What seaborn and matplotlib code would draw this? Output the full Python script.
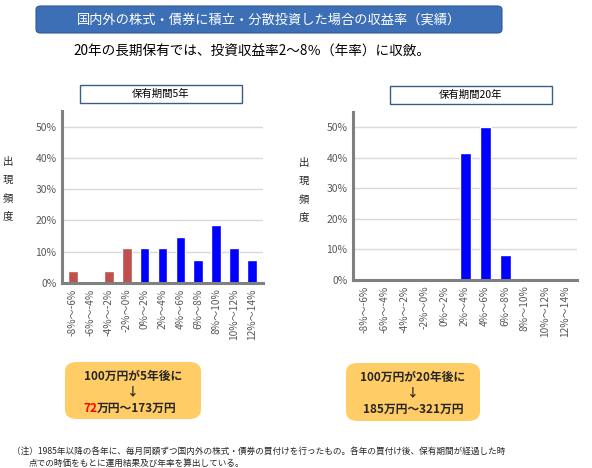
import numpy as np
import pandas as pd
import matplotlib
matplotlib.use("Agg")
import matplotlib.pyplot as plt
from matplotlib.patches import FancyBboxPatch
import seaborn as sns

# data
categories = ["-8%～-6%", "-6%～-4%", "-4%～-2%", "-2%～0%", "0%～2%", "2%～4%",
              "4%～6%", "6%～8%", "8%～10%", "10%～12%", "12%～14%"]
freq_5y = [3.7, 0.0, 3.7, 11.1, 11.1, 11.1, 14.8, 7.4, 18.5, 11.1, 7.4]
freq_20y = [0.0, 0.0, 0.0, 0.0, 0.0, 41.7, 50.0, 8.3, 0.0, 0.0, 0.0]
neg_count = 4  # first four bins are negative returns
titles = ["保有期間5年", "保有期間20年"]

sns.set_theme(style="white")
plt.rcParams["font.family"] = ["Noto Sans CJK JP", "DejaVu Sans"]

fig = plt.figure(figsize=(5.92, 4.68), dpi=100)

red = "#C0504D"
blue = "#0000FF"
colors = [red] * neg_count + [blue] * (len(categories) - neg_count)

ax_pos = [[62 / 592, 1 - 283 / 468, 201 / 592, 172 / 468],
          [353 / 592, 1 - 280 / 468, 224 / 592, 168 / 468]]

for i, vals in enumerate([freq_5y, freq_20y]):
    ax = fig.add_axes(ax_pos[i])
    df = pd.DataFrame({"bin": categories, "freq": vals})
    sns.barplot(data=df, x="bin", y="freq", hue="bin", palette=colors,
                legend=False, width=0.55, ax=ax, saturation=1)
    ax.set_ylim(0, 55)
    ax.set_xlim(-0.6, len(categories) - 0.4)
    ax.set_yticks([0, 10, 20, 30, 40, 50])
    ax.set_yticklabels([f"{t}%" for t in [0, 10, 20, 30, 40, 50]])
    ax.yaxis.grid(True, color="#D9D9D9", lw=1)
    ax.set_axisbelow(True)
    ax.set_xlabel("")
    ax.set_ylabel("")
    for s in ["top", "right"]:
        ax.spines[s].set_visible(False)
    for s in ["left", "bottom"]:
        ax.spines[s].set_color("#808080")
        ax.spines[s].set_linewidth(2.2)
    ax.tick_params(axis="x", rotation=90, labelsize=7.3, colors="#595959", length=0, pad=4)
    ax.tick_params(axis="y", labelsize=7.5, colors="#595959", length=0, pad=4)

# panel title boxes
for (x0, x1, y0, y1), t in zip([(80, 242, 85, 103), (390, 552, 86, 104)], titles):
    fig.patches.append(plt.Rectangle((x0 / 592, 1 - y1 / 468), (x1 - x0) / 592, (y1 - y0) / 468,
                                     transform=fig.transFigure, facecolor="white",
                                     edgecolor="#385D8A", lw=1))
    fig.text((x0 + x1) / 2 / 592, 1 - (y0 + y1) / 2 / 468, t, ha="center", va="center",
             fontsize=7.5, color="black")

# vertical y labels
for x, y in [(8, 162), (304, 163)]:
    for k, ch in enumerate("出現頻度"):
        fig.text(x / 592, 1 - (y + k * 18) / 468, ch, ha="center", va="center", fontsize=7.5)

# top banner
banner = FancyBboxPatch((36 / 592, 1 - 33 / 468), 466 / 592, 27 / 468,
                        boxstyle="round,pad=0,rounding_size=0.008",
                        transform=fig.transFigure, facecolor="#3C6FB6",
                        edgecolor="#2F5A96", lw=0.8)
fig.patches.append(banner)
fig.text(269 / 592, 1 - 20 / 468, "国内外の株式・債券に積立・分散投資した場合の収益率（実績）",
         ha="center", va="center", fontsize=9.5, color="white")
fig.text(252 / 592, 1 - 52 / 468, "20年の長期保有では、投資収益率2～8％（年率）に収斂。",
         ha="center", va="center", fontsize=9.8, color="black")

# result boxes
for x0, x1, y0, y1 in [(65, 201, 362, 419), (346, 480, 363, 421)]:
    fig.patches.append(FancyBboxPatch((x0 / 592, 1 - y1 / 468), (x1 - x0) / 592, (y1 - y0) / 468,
                                      boxstyle="round,pad=0,rounding_size=0.02",
                                      transform=fig.transFigure, facecolor="#FFCC66",
                                      edgecolor="none"))

fig.text(133 / 592, 1 - 376 / 468, "100万円が5年後に", ha="center", va="center",
         fontsize=8.5, fontweight="bold")
fig.text(133 / 592, 1 - 392 / 468, "↓", ha="center", va="center", fontsize=8.5, fontweight="bold")
fig.text(97 / 592, 1 - 408 / 468, "72", ha="right", va="center", fontsize=8.5,
         fontweight="bold", color="red")
fig.text(97 / 592, 1 - 408 / 468, "万円～173万円", ha="left", va="center", fontsize=8.5,
         fontweight="bold")

fig.text(413 / 592, 1 - 377 / 468, "100万円が20年後に", ha="center", va="center",
         fontsize=8.5, fontweight="bold")
fig.text(413 / 592, 1 - 393 / 468, "↓", ha="center", va="center", fontsize=8.5, fontweight="bold")
fig.text(413 / 592, 1 - 409 / 468, "185万円～321万円", ha="center", va="center",
         fontsize=8.5, fontweight="bold")

# footnote
fig.text(12 / 592, 1 - 451 / 468,
         "（注）1985年以降の各年に、毎月同額ずつ国内外の株式・債券の買付けを行ったもの。各年の買付け後、保有期間が経過した時",
         ha="left", va="center", fontsize=6.2)
fig.text(29 / 592, 1 - 463 / 468, "点での時価をもとに運用結果及び年率を算出している。",
         ha="left", va="center", fontsize=6.2)

fig.savefig("out.png", dpi=100)
